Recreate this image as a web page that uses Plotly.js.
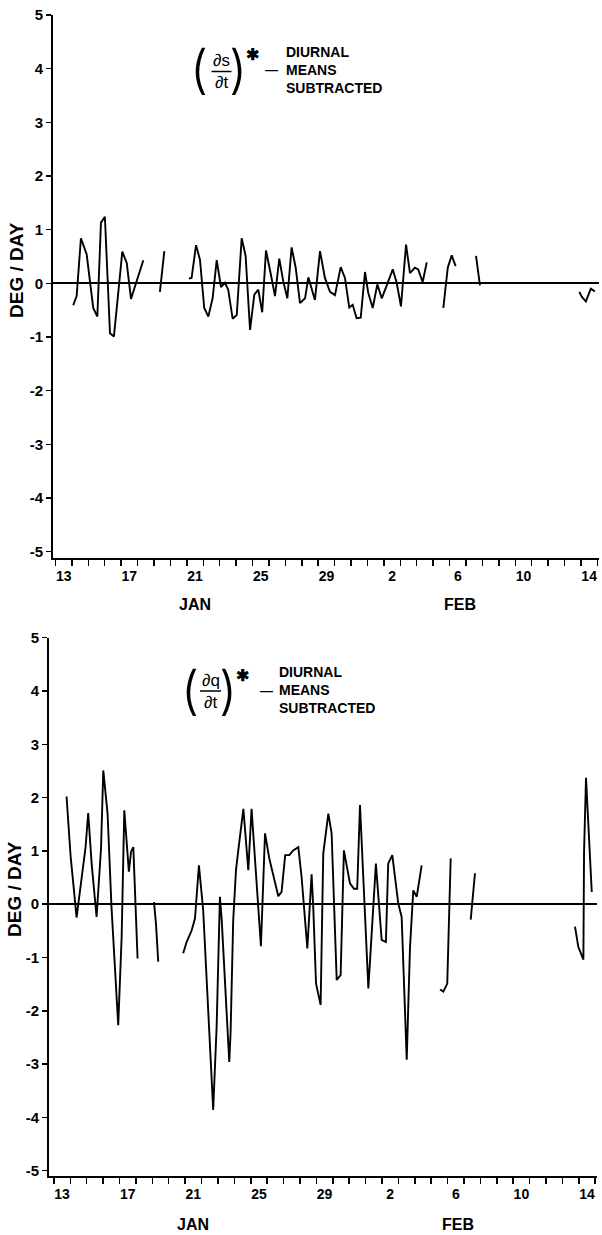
<!DOCTYPE html>
<html>
<head>
<meta charset="utf-8">
<script src="https://cdn.plot.ly/plotly-3.0.1.min.js"></script>
<style>
  html, body { margin: 0; padding: 0; background: #fff; }
  #chart { width: 602px; height: 1235px; }
</style>
</head>
<body>
<div id="chart"></div>
<script>
// Day numbers count from 1 January (32 = 1 February); null marks a gap in the record.
const dsdtDay = [14.08,14.29,14.55,14.90,15.30,15.55,15.77,16.01,16.32,16.56,16.79,17.07,17.34,17.60,18.35, null,
  19.36,19.63, null,
  21.13,21.29,21.56,21.80,22.06,22.31,22.57,22.82,23.08,23.32,23.52,23.79,24.04,24.34,24.58,24.85,25.11,25.35,25.59,25.82,
  26.12,26.37,26.63,26.87,27.12,27.38,27.63,27.89,28.20,28.40,28.80,29.11,29.41,29.72,30.02,30.37,30.63,30.89,31.10,31.34,
  31.59,31.85,32.05,32.32,32.60,32.87,33.21,33.54,33.78,34.04,34.35,34.59,34.89,35.09,35.36,35.61, null,
  36.62,36.89,37.13,37.37, null,
  38.61,38.85, null,
  44.90,45.05,45.30,45.60,45.85];
const dsdtVal = [-0.41,-0.24,0.84,0.54,-0.46,-0.62,1.13,1.24,-0.93,-0.99,-0.28,0.59,0.38,-0.29,0.43, null,
  -0.16,0.60, null,
  0.09,0.10,0.71,0.44,-0.46,-0.62,-0.28,0.43,-0.07,0.01,-0.12,-0.66,-0.59,0.84,0.51,-0.87,-0.21,-0.12,-0.54,0.61,
  0.16,-0.24,0.46,0.04,-0.28,0.67,0.29,-0.37,-0.28,0.11,-0.31,0.60,0.10,-0.16,-0.22,0.30,0.10,-0.45,-0.40,-0.65,
  -0.64,0.21,-0.18,-0.46,-0.02,-0.28,-0.01,0.26,0.01,-0.43,0.72,0.19,0.29,0.26,0.02,0.39, null,
  -0.46,0.29,0.52,0.32, null,
  0.51,-0.04, null,
  -0.16,-0.25,-0.34,-0.10,-0.15];

const dqdtDay = [13.77,14.02,14.18,14.38,14.93,15.09,15.30,15.60,15.87,16.01,16.27,16.51,16.92,17.13,17.29,17.43,17.57,17.70,17.84,17.98,18.10, null,
  19.10,19.22,19.36, null,
  20.88,21.09,21.40,21.60,21.84,22.10,22.71,22.92,23.12,23.23,23.69,23.77,23.93,24.10,24.24,24.55,24.85,25.05,25.62,25.72,
  25.87,26.13,26.37,26.68,26.88,27.10,27.35,27.59,27.90,28.10,28.45,28.71,28.81,28.98,29.26,29.42,29.73,29.93,30.24,30.48,
  30.68,31.05,31.29,31.49,31.66,32.17,32.63,32.98,33.24,33.38,33.63,33.99,34.20,34.51,34.71,34.91,35.12,35.42, null,
  36.54,36.74,36.98,37.19, null,
  38.41,38.53,38.67, null,
  44.77,44.97,45.28,45.32,45.44,45.58,45.79];
const dqdtVal = [2.02,0.89,0.39,-0.25,1.07,1.71,0.76,-0.24,1.04,2.51,1.70,-0.05,-2.27,-0.61,1.76,1.26,0.61,0.98,1.07,-0.05,-1.02, null,
  0.04,-0.36,-1.08, null,
  -0.92,-0.71,-0.49,-0.27,0.73,-0.11,-3.86,-2.30,0.14,-0.30,-2.96,-2.42,-0.30,0.64,1.01,1.79,0.64,1.79,-0.79,0.01,
  1.33,0.86,0.57,0.15,0.23,0.92,0.92,1.01,1.07,0.51,-0.83,0.56,-0.05,-1.49,-1.89,0.95,1.70,1.33,-1.42,-1.33,
  1.01,0.39,0.29,0.29,1.86,-1.58,0.76,-0.67,-0.71,0.76,0.92,0.02,-0.24,-2.92,-0.80,0.26,0.14,0.73, null,
  -1.60,-1.64,-1.49,0.86, null,
  -0.29,0.07,0.58, null,
  -0.42,-0.80,-1.04,0.98,2.37,1.57,0.23];

// Day labels sit in the middle of each day; tick marks fall on the day boundaries.
const dayLabelPos = [13.5,17.5,21.5,25.5,29.5,33.5,37.5,41.5,45.5];
const dayLabelText = ['13','17','21','25','29','2','6','10','14'];
const monthPos = [21.5, 37.65];
const monthText = ['JAN', 'FEB'];
const degTicks = [-5,-4,-3,-2,-1,0,1,2,3,4,5];
const degTickText = ['-5','-4','-3','-2','-1','0','1','2','3','4','5'];

const W = 602, H = 1235;
const fx = p => p / W;
const fy = p => 1 - p / H;

const BOLD = {family: 'Liberation Sans, Arial, sans-serif', color: '#000', weight: 'bold'};
const NARROW = {family: 'Liberation Sans Narrow, Arial Narrow, Liberation Sans, sans-serif', color: '#000', weight: 'bold'};
const PLAIN = {family: 'Liberation Sans, Arial, sans-serif', color: '#000'};
const THIN = {family: 'Inter, Open Sans, Noto Sans, sans-serif', color: '#000', weight: 300};

function xAxis(domain, range, anchor) {
  return {
    domain, range, anchor,
    showgrid: false, zeroline: false,
    showline: true, linecolor: '#000', linewidth: 2,
    tickmode: 'array', tickvals: dayLabelPos, ticktext: dayLabelText,
    ticks: '', ticklabelstandoff: 4,
    tickfont: {...BOLD, size: 14},
    minor: {tickmode: 'linear', tick0: 13, dtick: 1, ticks: 'outside', ticklen: 6,
            tickwidth: 1.5, tickcolor: '#000', showgrid: false},
    fixedrange: true
  };
}
function yAxis(domain, range, anchor) {
  return {
    domain, range, anchor,
    showgrid: false,
    zeroline: true, zerolinecolor: '#000', zerolinewidth: 1.6,
    showline: true, linecolor: '#000', linewidth: 2,
    tickmode: 'array', tickvals: degTicks, ticktext: degTickText,
    ticks: 'outside', ticklen: 5, tickwidth: 1.5, tickcolor: '#000',
    tickfont: {...BOLD, size: 15},
    fixedrange: true
  };
}

function note(text, x, y, font, extra) {
  return Object.assign({text, x: fx(x), y: fy(y), xref: 'paper', yref: 'paper',
    xanchor: 'center', yanchor: 'middle', showarrow: false, font}, extra || {});
}
function bar(x0, x1, y) {
  return {type: 'line', xref: 'paper', yref: 'paper', x0: fx(x0), x1: fx(x1), y0: fy(y), y1: fy(y),
          line: {color: '#000', width: 1.5}};
}

// Symbol block "(∂v/∂t)* — DIURNAL MEANS SUBTRACTED" for one panel
function symbolBlock(num, p) {
  const left = {xanchor: 'left'};
  return [
    note('(', p.lp, p.cy, {...THIN, size: 52}),
    note(')', p.rp, p.cy, {...THIN, size: 52}),
    note('∂' + num, p.fx, p.cy - 10, {...PLAIN, size: 17}),
    note('∂t', p.fx, p.cy + 12, {...PLAIN, size: 17}),
    note('✱', p.ax, p.cy - 15, {...BOLD, size: 16}),
    note('—', p.dx, p.cy, {...BOLD, size: 13}),
    note('DIURNAL', p.tx, p.cy - 18, {...NARROW, size: 14}, left),
    note('MEANS', p.tx, p.cy, {...NARROW, size: 14}, left),
    note('SUBTRACTED', p.tx, p.cy + 18, {...NARROW, size: 14}, left)
  ];
}

const topBlock = {lp: 199, rp: 238, fx: 221.5, cy: 70, ax: 252.5, dx: 271, tx: 284};
const botBlock = {lp: 190, rp: 228, fx: 210.5, cy: 690, ax: 242.5, dx: 266, tx: 277};

const annotations = [
  ...symbolBlock('s', topBlock),
  ...symbolBlock('q', botBlock),
  note('DEG / DAY', 16, 270, {...BOLD, size: 19}, {textangle: -90}),
  note('DEG / DAY', 14, 889, {...BOLD, size: 19}, {textangle: -90}),
  ...monthText.map((m, i) => ({text: m, x: monthPos[i], xref: 'x', y: fy(604), yref: 'paper',
    xanchor: 'center', yanchor: 'middle', showarrow: false, font: {...BOLD, size: 16}})),
  ...monthText.map((m, i) => ({text: m, x: monthPos[i], xref: 'x2', y: fy(1224), yref: 'paper',
    xanchor: 'center', yanchor: 'middle', showarrow: false, font: {...BOLD, size: 16}}))
];

const shapes = [
  bar(topBlock.fx - 10, topBlock.fx + 10, topBlock.cy + 1.5),
  bar(botBlock.fx - 10.5, botBlock.fx + 10.5, botBlock.cy + 1)
];

const lineStyle = {color: '#000', width: 1.9};
const traces = [
  {x: dsdtDay, y: dsdtVal, xaxis: 'x', yaxis: 'y', mode: 'lines', line: lineStyle,
   connectgaps: false, hoverinfo: 'skip', name: '(∂s/∂t)*'},
  {x: dqdtDay, y: dqdtVal, xaxis: 'x2', yaxis: 'y2', mode: 'lines', line: lineStyle,
   connectgaps: false, hoverinfo: 'skip', name: '(∂q/∂t)*'}
];

const layout = {
  width: W, height: H,
  margin: {l: 0, r: 0, t: 0, b: 0},
  paper_bgcolor: '#fff', plot_bgcolor: '#fff',
  showlegend: false,
  xaxis: xAxis([fx(53), fx(599)], [12.85, 46.1], 'y'),
  yaxis: yAxis([fy(558), fy(15)], [-5.12, 5], 'x'),
  xaxis2: xAxis([fx(49), fx(597)], [12.7, 46.11], 'y2'),
  yaxis2: yAxis([fy(1176), fy(637.7)], [-5.1, 5], 'x2'),
  annotations, shapes
};

Plotly.newPlot('chart', traces, layout, {displayModeBar: false, staticPlot: true});
</script>
</body>
</html>
